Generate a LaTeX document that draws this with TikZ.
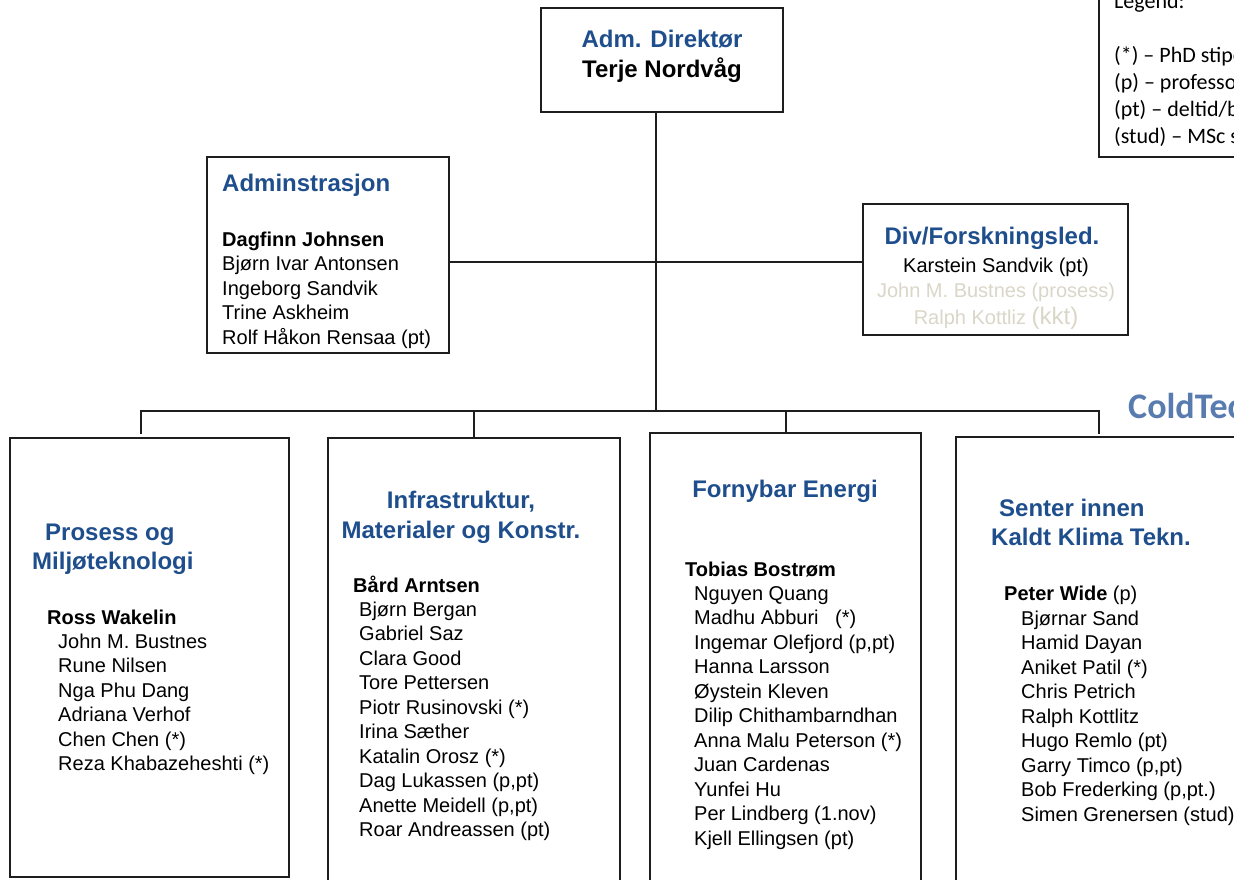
\documentclass[tikz,border=0pt]{standalone}
\usepackage{fontspec}
\setmainfont{Liberation Sans}
\newfontfamily\calibri{Carlito}
\definecolor{tblue}{RGB}{31,78,140}
\definecolor{lineK}{RGB}{30,30,30}
\definecolor{faint}{RGB}{218,214,200}
\definecolor{coldblue}{RGB}{88,124,176}
\newcommand\namefont{\fontsize{20}{24.5}\selectfont}
\newcommand\ttlfont{\bfseries\fontsize{24}{29}\selectfont}
\begin{document}
\begin{tikzpicture}[x=1pt,y=-1pt,
  frame/.style={draw=lineK, line width=2pt, inner sep=0pt, outer sep=0pt},
  conn/.style={draw=lineK, line width=2pt},
  ttl/.style={font=\ttlfont, text=tblue, inner sep=0pt},
  lst/.style={font=\namefont, inner sep=0pt, align=left, anchor=north west},
  nm/.style={font=\namefont, inner sep=0pt, anchor=base west},
]
\fill[white] (0,0) rectangle (1234,879);
\useasboundingbox (0,0) rectangle (1234,879);

% boxes
\node[frame, minimum width=242pt, minimum height=104pt] (dir) at (662,60) {};
\node[frame, minimum width=242pt, minimum height=196pt] (adm) at (328,255) {};
\node[frame, minimum width=265pt, minimum height=131pt] (div) at (995.5,269.5) {};
\node[frame, minimum width=279pt, minimum height=439pt] (b1) at (149.5,657.5) {};
\node[frame, minimum width=292pt, minimum height=467pt] (b2) at (474,671.5) {};
\node[frame, minimum width=271pt, minimum height=472pt] (b3) at (785.5,669) {};
\node[frame, minimum width=286pt, minimum height=468pt] (b4) at (1099,671) {};
\node[frame, minimum width=170pt, minimum height=197pt] (leg) at (1184,58.5) {};

% connectors
\coordinate (hub) at (656,262);
\coordinate (bus) at (656,411);
\coordinate (busL) at (141,411);
\coordinate (busR) at (1099,411);
\coordinate (t1) at (141,434);
\coordinate (t4) at (1099,434);
\draw[conn] (hub |- dir.south) -- (bus);
\draw[conn] (adm.east |- hub) -- (div.west |- hub);
\draw[conn] (t1) -- (busL) -- (busR) -- (t4);
\draw[conn] (b2.north |- busL) -- (b2.north);
\draw[conn] (b3.north |- busL) -- (b3.north);

% director
\node[ttl, anchor=base] (dirT) at (662,47.6) {Adm. Direktør};
\node[ttl, anchor=base, text=black] (dirN) at (662,77.6) {Terje Nordvåg};

% administration
\node[ttl, anchor=base west] (admT) at (222,191.6) {Adminstrasjon};
\node[lst] (admL) at (222,229) {\strut\textbf{Dagfinn Johnsen}\\Bjørn Ivar Antonsen\\Ingeborg Sandvik\\Trine Askheim\\Rolf Håkon Rensaa (pt)};

% research lead
\node[ttl, anchor=base] (divT) at (992,244.6) {Div/Forskningsled.};
\node[nm, anchor=base] (divA) at (996,272.2) {Karstein Sandvik (pt)};
\node[nm, anchor=base, text=faint] (divB) at (996,297.2) {John M. Bustnes (prosess)};
\node[nm, anchor=base, text=faint] (divC) at (996,324.2) {Ralph Kottliz {\fontsize{24}{28}\selectfont(kkt)}};

% box 1
\node[ttl, align=left, anchor=north west] (b1T) at (32,520.3) {\strut\hspace*{13pt}Prosess og\\Miljøteknologi};
\node[nm] (b1H) at (47,624.2) {\textbf{Ross Wakelin}};
\node[lst] (b1L) at (58,631) {\strut John M. Bustnes\\Rune Nilsen\\Nga Phu Dang\\Adriana Verhof\\Chen Chen (*)\\Reza Khabazeheshti (*)};

% box 2
\node[ttl, align=center, anchor=north, font=\bfseries\fontsize{24}{30}\selectfont] (b2T) at (461,487.6) {\strut Infrastruktur,\\Materialer og Konstr.};
\node[nm] (b2H) at (353,592.2) {\textbf{Bård Arntsen}};
\node[lst] (b2L) at (359,599) {\strut Bjørn Bergan\\Gabriel Saz\\Clara Good\\Tore Pettersen\\Piotr Rusinovski (*)\\Irina Sæther\\Katalin Orosz (*)\\Dag Lukassen (p,pt)\\Anette Meidell (p,pt)\\Roar Andreassen (pt)};

% box 3
\node[ttl, anchor=base] (b3T) at (785,497.6) {Fornybar Energi};
\node[nm] (b3H) at (685,576.2) {\textbf{Tobias Bostrøm}};
\node[lst] (b3L) at (694,583) {\strut Nguyen Quang\\Madhu Abburi\hspace*{11pt} (*)\\Ingemar Olefjord (p,pt)\\Hanna Larsson\\Øystein Kleven\\Dilip Chithambarndhan\\Anna Malu Peterson (*)\\Juan Cardenas\\Yunfei Hu\\Per Lindberg (1.nov)\\Kjell Ellingsen (pt)};

% box 4
\node[ttl, align=left, anchor=north west] (b4T) at (991,496.3) {\strut\hspace*{8pt}Senter innen\\Kaldt Klima Tekn.};
\node[nm] (b4H) at (1004,600.2) {\textbf{Peter Wide} (p)};
\node[lst] (b4L) at (1021,608) {\strut Bjørnar Sand\\Hamid Dayan\\Aniket Patil (*)\\Chris Petrich\\Ralph Kottlitz\\Hugo Remlo (pt)\\Garry Timco (p,pt)\\Bob Frederking (p,pt.)\\Simen Grenersen (stud)};

% legend
\node[anchor=north west, inner sep=0pt, align=left, font=\calibri\fontsize{22}{27}\selectfont] (legT) at (1114,-10.9) {\strut Legend:\\[27pt](*) – PhD stipendiat\\(p) – professor\\(pt) – deltid/bistilling\\(stud) – MSc student};

% logo text
\node[anchor=base west, inner sep=0pt, font=\calibri\bfseries\fontsize{36}{42}\selectfont, text=coldblue] (cold) at (1128,418) {ColdTech};
\end{tikzpicture}
\end{document}
